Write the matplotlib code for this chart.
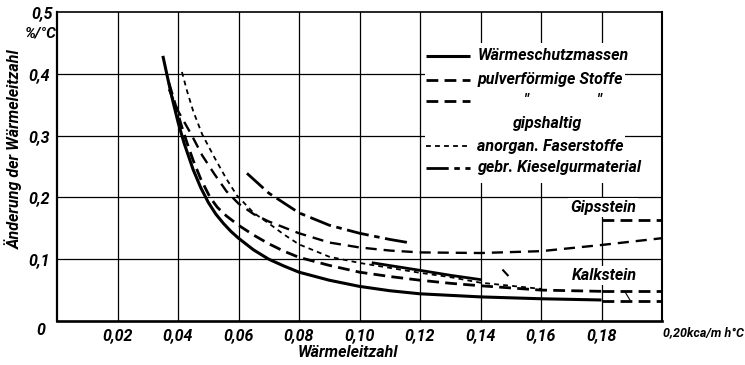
# Waermeleitzahl chart: change of conductivity vs conductivity

import matplotlib
matplotlib.use('Agg')
import matplotlib.pyplot as plt
from matplotlib.patches import Rectangle

plt.rcParams['font.family'] = ['Roboto', 'DejaVu Sans']
plt.rcParams['font.style'] = 'italic'
plt.rcParams['font.weight'] = 'bold'
plt.rcParams['lines.scale_dashes'] = False

# curves
schutz_x = [0.035, 0.0365, 0.038, 0.040, 0.042, 0.045, 0.0475, 0.050, 0.0525, 0.055, 0.0575, 0.060,
            0.065, 0.070, 0.075, 0.080, 0.090, 0.100, 0.110, 0.120, 0.140, 0.160, 0.180]
schutz_y = [0.429, 0.395, 0.362, 0.322, 0.288, 0.245, 0.216, 0.192, 0.173, 0.158, 0.145, 0.134,
            0.115, 0.100, 0.089, 0.079, 0.066, 0.056, 0.049, 0.044, 0.039, 0.036, 0.034]

pulver_x = [0.037, 0.039, 0.041, 0.043, 0.045, 0.0475, 0.0506, 0.053, 0.056, 0.060, 0.065, 0.070,
            0.075, 0.080, 0.090, 0.100, 0.110, 0.120, 0.130, 0.140, 0.160, 0.180]
pulver_y = [0.385, 0.352, 0.318, 0.288, 0.260, 0.230, 0.200, 0.184, 0.170, 0.155, 0.139, 0.125,
            0.113, 0.103, 0.090, 0.079, 0.072, 0.066, 0.061, 0.057, 0.050, 0.048]

gips_x = [0.037, 0.040, 0.0446, 0.048, 0.052, 0.056, 0.060, 0.065, 0.070, 0.080, 0.090, 0.100,
          0.110, 0.120, 0.140, 0.160, 0.180, 0.200]
gips_y = [0.375, 0.340, 0.300, 0.268, 0.238, 0.210, 0.190, 0.173, 0.161, 0.142, 0.127, 0.119,
          0.114, 0.111, 0.110, 0.113, 0.123, 0.134]

faser_x = [0.0413, 0.043, 0.045, 0.048, 0.052, 0.056, 0.0595, 0.065, 0.070, 0.075, 0.080, 0.090,
           0.100, 0.110, 0.120, 0.130, 0.140, 0.160]
faser_y = [0.403, 0.372, 0.340, 0.302, 0.265, 0.230, 0.203, 0.175, 0.158, 0.140, 0.124, 0.104,
           0.094, 0.086, 0.078, 0.071, 0.062, 0.052]

kiesel_x = [0.0628, 0.070, 0.080, 0.090, 0.100, 0.110, 0.116]
kiesel_y = [0.239, 0.207, 0.175, 0.155, 0.142, 0.132, 0.127]

kiesel2_x = [0.1045, 0.120, 0.130, 0.140]
kiesel2_y = [0.094, 0.082, 0.074, 0.067]

stray_x = [0.1475, 0.149]
stray_y = [0.082, 0.074]

gipsstein_x = [0.180, 0.200]
gipsstein_y = [0.163, 0.163]
kalk_hi_x = [0.180, 0.200]
kalk_hi_y = [0.048, 0.048]
kalk_lo_x = [0.180, 0.200]
kalk_lo_y = [0.032, 0.032]

x_ticks = [0.02, 0.04, 0.06, 0.08, 0.10, 0.12, 0.14, 0.16, 0.18]
x_labels = ['0,02', '0,04', '0,06', '0,08', '0,10', '0,12', '0,14', '0,16', '0,18']
y_ticks = [0.1, 0.2, 0.3, 0.4]
y_labels = ['0,1', '0,2', '0,3', '0,4']

legend_labels = ['Wärmeschutzmassen', 'pulverförmige Stoffe', '"', 'anorgan. Faserstoffe',
                 'gebr. Kieselgurmaterial']

fig = plt.figure(figsize=(7.45, 3.65), dpi=100)
ax = fig.add_axes([57 / 745, 44 / 365, 605 / 745, 309 / 365])
ax.set_xlim(0, 0.2)
ax.set_ylim(0, 0.5)

ax.set_xticks(x_ticks)
ax.set_xticklabels(x_labels, fontsize=11.5)
ax.set_yticks(y_ticks)
ax.set_yticklabels(y_labels, fontsize=11.5)
ax.tick_params(length=0, pad=5)
ax.grid(True, color='black', lw=0.9)
ax.set_axisbelow(True)
for side, w in [('left', 1.6), ('bottom', 1.9), ('top', 1.2), ('right', 1.5)]:
    ax.spines[side].set_linewidth(w)

# white area of the legend cuts the grid
ax.add_patch(Rectangle((0.1217, 0.2226), 0.066, 0.227, facecolor='white', edgecolor='none', zorder=1))

solid = dict(color='black', lw=2.2, solid_capstyle='butt')
heavy = dict(color='black', lw=2.0, dashes=(8.5, 4.5))
medium = dict(color='black', lw=1.7, dashes=(8, 5))
short = dict(color='black', lw=1.3, dashes=(3.5, 3))
dashdot = dict(color='black', lw=2.0, dashes=(16, 4, 4, 4))

ax.plot(schutz_x, schutz_y, zorder=3, **solid)
ax.plot(pulver_x, pulver_y, zorder=3, **heavy)
ax.plot(gips_x, gips_y, zorder=3, **medium)
ax.plot(faser_x, faser_y, zorder=3, **short)
ax.plot(kiesel_x, kiesel_y, zorder=3, **dashdot)
ax.plot(kiesel2_x, kiesel2_y, zorder=3, color='black', lw=2.0)
ax.plot(stray_x, stray_y, zorder=3, color='black', lw=1.5)
ax.plot(gipsstein_x, gipsstein_y, zorder=3, **heavy)
ax.plot(kalk_hi_x, kalk_hi_y, zorder=3, **heavy)
ax.plot(kalk_lo_x, kalk_lo_y, zorder=3, **heavy)
ax.plot([0.1878, 0.1894], [0.047, 0.034], color='black', lw=0.8, zorder=3)

# legend drawn by hand
lx0, lx1, tx = 0.1219, 0.1365, 0.1390
rows = [(0.429, solid, legend_labels[0]), (0.390, heavy, legend_labels[1]),
        (0.356, heavy, None), (0.283, short, legend_labels[3]), (0.248, dashdot, legend_labels[4])]
for yy, st, lab in rows:
    ax.plot([lx0, lx1], [yy, yy], zorder=3, **st)
    if lab:
        ax.text(tx, yy, lab, fontsize=11.5, va='center', ha='left', zorder=4)
ax.text(0.155, 0.356, legend_labels[2], fontsize=11.5, va='center', ha='center', zorder=4)
ax.text(0.179, 0.356, legend_labels[2], fontsize=11.5, va='center', ha='center', zorder=4)
ax.text(0.162, 0.320, 'gipshaltig', fontsize=11.5, va='center', ha='center', zorder=4)

ax.text(0.1805, 0.184, 'Gipsstein', fontsize=11.5, va='center', ha='center', zorder=4,
        bbox=dict(facecolor='white', edgecolor='none', pad=1.5))
ax.text(0.181, 0.073, 'Kalkstein', fontsize=11.5, va='center', ha='center', zorder=4,
        bbox=dict(facecolor='white', edgecolor='none', pad=1.5))

ax.text(-0.0053, -0.016, '0', fontsize=11.5, va='center', ha='center', clip_on=False)
ax.text(0.2003, -0.0195, '0,20kca/m h°C', fontsize=9, va='center', ha='left', clip_on=False)
ax.text(-0.0012, 0.497, '0,5', fontsize=11.5, va='center', ha='right', clip_on=False)
ax.text(-0.0002, 0.466, '%/°C', fontsize=11, va='center', ha='right', clip_on=False)

fig.text(0.467, 0.034, 'Wärmeleitzahl', fontsize=11.5, ha='center', va='center')
fig.text(0.018, 0.59, 'Änderung der Wärmeleitzahl', fontsize=11.5, rotation=90, ha='center', va='center')

fig.savefig('out.png', dpi=100)
